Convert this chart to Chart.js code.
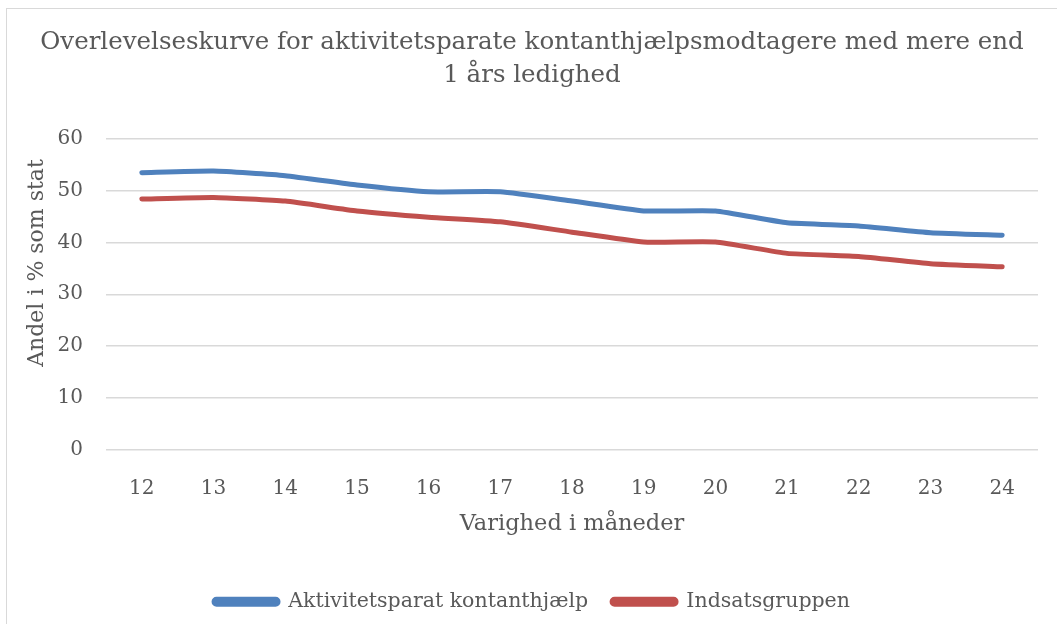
<!DOCTYPE html>
<html>
<head>
<meta charset="utf-8">
<script src="https://cdn.jsdelivr.net/npm/chart.js@4/dist/chart.umd.min.js"></script>
<style>
  html, body { margin: 0; padding: 0; background: #fff; overflow: hidden; }
  #wrap { position: relative; width: 1057px; height: 624px; }
  #frame { position: absolute; left: 6px; top: 8px; width: 1060px; height: 640px;
           border: 1.5px solid #d9d9d9; pointer-events: none; }
  canvas { position: absolute; left: 0; top: 0; }
</style>
</head>
<body>
<div id="wrap">
  <canvas id="chart" width="1057" height="624"></canvas>
  <div id="frame"></div>
</div>
<script>
// Data
const months = ['12', '13', '14', '15', '16', '17', '18', '19', '20', '21', '22', '23', '24'];
const aktivitetsparat = [53.5, 53.8, 52.9, 51.1, 49.8, 49.8, 48.0, 46.1, 46.1, 43.8, 43.2, 41.9, 41.4];
const indsatsgruppen = [48.4, 48.7, 48.0, 46.1, 44.9, 44.0, 42.0, 40.1, 40.1, 37.9, 37.3, 35.9, 35.3];
const yTicks = [0, 10, 20, 30, 40, 50, 60];

const textColor = '#595959';
const gridColor = '#d9d9d9';
const serif = "'DejaVu Serif', 'Liberation Serif', serif";

// y axis title sits a bit above the plot centre in the original, so draw it by hand
const yTitle = {
    id: 'yTitle',
    afterDraw(chart) {
        const c = chart.ctx;
        c.save();
        c.translate(37, 263);
        c.rotate(-Math.PI / 2);
        c.fillStyle = textColor;
        c.font = '22px ' + serif;
        c.textAlign = 'center';
        c.textBaseline = 'middle';
        c.fillText('Andel i % som stat', 0, 0);
        c.restore();
    }
};

const ctx = document.getElementById('chart').getContext('2d');
const chart = new Chart(ctx, {
    type: 'line',
    data: {
        labels: months,
        datasets: [{
            label: 'Aktivitetsparat kontanthjælp',
            data: aktivitetsparat,
            borderColor: '#4f81bd',
            backgroundColor: '#4f81bd',
            borderWidth: 5,
            tension: 0.15,
            borderCapStyle: 'round',
            borderJoinStyle: 'round',
            pointRadius: 0,
            pointHoverRadius: 0
        }, {
            label: 'Indsatsgruppen',
            data: indsatsgruppen,
            borderColor: '#c0504d',
            backgroundColor: '#c0504d',
            borderWidth: 5,
            tension: 0.15,
            borderCapStyle: 'round',
            borderJoinStyle: 'round',
            pointRadius: 0,
            pointHoverRadius: 0
        }]
    },
    plugins: [yTitle],
    options: {
        responsive: false,
        animation: false,
        layout: { padding: { top: 0, left: 26, right: 19, bottom: 2 } },
        plugins: {
            tooltip: { enabled: false },
            title: {
                display: true,
                text: ['Overlevelseskurve for aktivitetsparate kontanthjælpsmodtagere med mere end', '1 års ledighed'],
                color: textColor,
                font: { family: serif, size: 24.5, weight: 'normal', lineHeight: 1.347 },
                padding: { top: 26, bottom: 47 }
            },
            legend: {
                position: 'bottom',
                labels: {
                    color: textColor,
                    font: { family: serif, size: 20.5 },
                    boxWidth: 64,
                    boxHeight: 5,
                    useBorderRadius: true,
                    borderRadius: 2.5,
                    padding: 24
                }
            }
        },
        scales: {
            x: {
                offset: true,
                grid: { display: false, drawTicks: false },
                border: { display: false },
                ticks: { color: textColor, font: { family: serif, size: 20 }, padding: 27 },
                title: {
                    display: true,
                    text: 'Varighed i måneder',
                    color: textColor,
                    font: { family: serif, size: 22.5 },
                    padding: { top: 0, bottom: 30 }
                },
                afterFit: function (scale) { scale.height = 118; }
            },
            y: {
                min: 0,
                max: 60,
                afterBuildTicks: function (scale) {
                    scale.ticks = yTicks.map(v => ({ value: v }));
                },
                grid: { color: gridColor, lineWidth: 1.5, drawTicks: false },
                border: { display: false },
                ticks: { color: textColor, font: { family: serif, size: 20 }, padding: 23 },
                title: { display: false },
                afterFit: function (scale) { scale.width = 80; }
            }
        }
    }
});
</script>
</body>
</html>
